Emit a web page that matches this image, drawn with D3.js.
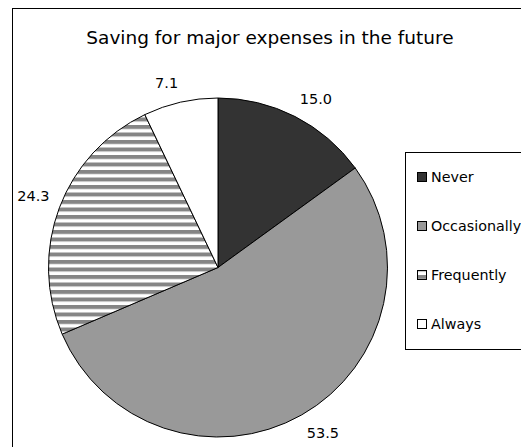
<!DOCTYPE html>
<html>
<head>
<meta charset="utf-8">
<script src="https://cdn.jsdelivr.net/npm/d3@7"></script>
<style>
  html, body { margin: 0; padding: 0; background: #fff; }
  svg { display: block; font-family: "DejaVu Sans", Verdana, sans-serif; }
</style>
</head>
<body>
<svg id="chart" width="521" height="447"></svg>
<script>
// Share of respondents saving for major expenses (percent)
const categories = ["Never", "Occasionally", "Frequently", "Always"];
const values = [15.0, 53.5, 24.3, 7.1];
const valueLabels = ["15.0", "53.5", "24.3", "7.1"];
const title = "Saving for major expenses in the future";

const svg = d3.select("#chart");
const defs = svg.append("defs");

// horizontal stripe hatch used for "Frequently"
const hatch = defs.append("pattern")
  .attr("id", "hatch")
  .attr("patternUnits", "userSpaceOnUse")
  .attr("width", 8).attr("height", 7.5);
hatch.append("rect").attr("width", 8).attr("height", 7.5).attr("fill", "#fff");
hatch.append("rect").attr("width", 8).attr("height", 4).attr("fill", "#858585");

const fills = d3.scaleOrdinal()
  .domain(categories)
  .range(["#333333", "#999999", "url(#hatch)", "#ffffff"]);

// chart area frame (runs off the right and bottom edges)
svg.append("rect")
  .attr("x", 12.5).attr("y", 8.5)
  .attr("width", 700).attr("height", 600)
  .attr("fill", "#fff").attr("stroke", "#000").attr("stroke-width", 1);

svg.append("text")
  .attr("x", 270).attr("y", 37)
  .attr("text-anchor", "middle").attr("dominant-baseline", "central")
  .attr("font-size", 18.5).attr("fill", "#000")
  .text(title);

const cx = 218, cy = 267.5, r = 169.5;
const pie = d3.pie().sort(null).value(d => d)(values);
const arc = d3.arc().innerRadius(0).outerRadius(r);
const labelGap = 10.5, labelHeight = 17;

const g = svg.append("g").attr("transform", `translate(${cx},${cy})`);
g.selectAll("path.slice")
  .data(pie)
  .join("path")
  .attr("class", "slice")
  .attr("d", arc)
  .attr("fill", (d, i) => fills(categories[i]))
  .attr("stroke", "#000")
  .attr("stroke-width", 1)
  .attr("stroke-linejoin", "round");

// value labels sit outside the rim: the label box corner nearest the pie
// touches a point just beyond the slice's mid-angle on the rim
const labelAnchor = d3.arc().innerRadius(r + labelGap).outerRadius(r + labelGap);
g.selectAll("text.val")
  .data(pie)
  .join("text")
  .attr("class", "val")
  .attr("text-anchor", "middle").attr("dominant-baseline", "central")
  .attr("font-size", 14.5).attr("fill", "#000")
  .text((d, i) => valueLabels[i])
  .attr("transform", function(d) {
    const [px, py] = labelAnchor.centroid(d);
    const w = this.getComputedTextLength();
    const mid = (d.startAngle + d.endAngle) / 2;
    const sx = Math.sign(Math.sin(mid)), sy = Math.sign(-Math.cos(mid));
    return `translate(${px + sx * w / 2},${py + sy * labelHeight / 2})`;
  });

// legend
const legendTop = 152.5, rowGap = 49, firstRow = 177;
svg.append("rect")
  .attr("x", 405.5).attr("y", legendTop)
  .attr("width", 200).attr("height", 197)
  .attr("fill", "#fff").attr("stroke", "#000").attr("stroke-width", 1);

const rowY = d3.scalePoint().domain(categories)
  .range([firstRow, firstRow + rowGap * (categories.length - 1)]);

const rows = svg.selectAll("g.leg")
  .data(categories)
  .join("g")
  .attr("class", "leg")
  .attr("transform", d => `translate(0,${rowY(d)})`);
rows.append("rect")
  .attr("x", 417.5).attr("y", -4.5)
  .attr("width", 9).attr("height", 9)
  .attr("fill", d => fills(d))
  .attr("stroke", "#000").attr("stroke-width", 1);
rows.append("text")
  .attr("x", 431).attr("y", 0)
  .attr("dominant-baseline", "central")
  .attr("font-size", 14.3).attr("fill", "#000")
  .text(d => d);
</script>
</body>
</html>
